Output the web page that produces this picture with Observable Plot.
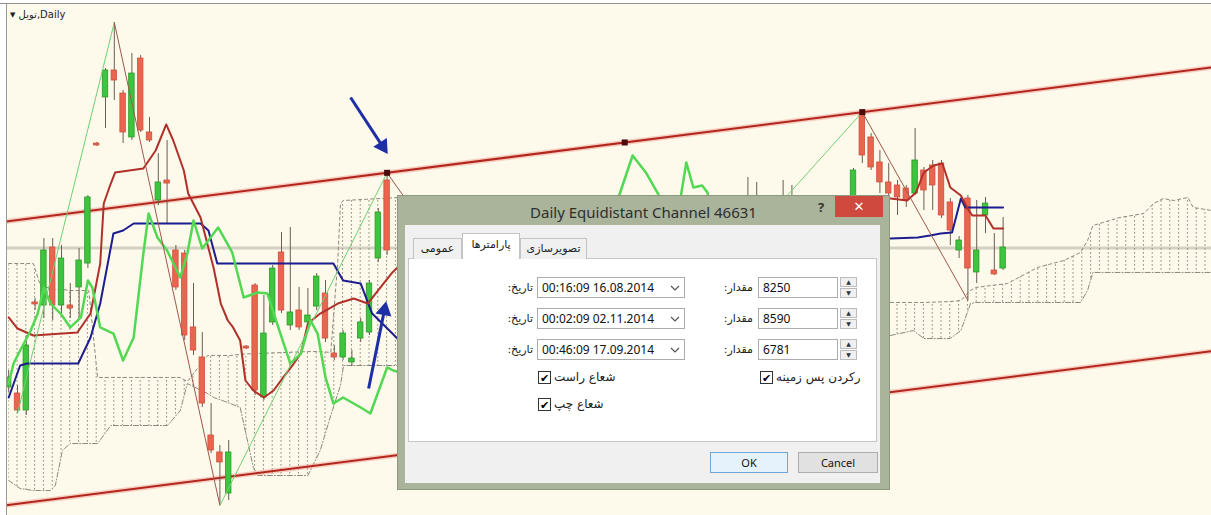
<!DOCTYPE html>
<html><head><meta charset="utf-8">
<script src="https://cdn.jsdelivr.net/npm/d3@7"></script>
<script src="https://cdn.jsdelivr.net/npm/@observablehq/plot@0.6"></script>
<style>
html,body{margin:0;padding:0;background:#fff;}
#wrap{position:relative;width:1211px;height:515px;overflow:hidden;font-family:"Noto Sans","DejaVu Sans",sans-serif;}
#chart svg{display:block;}
.a{position:absolute;box-sizing:border-box;white-space:nowrap;}
.fa{font-family:"DejaVu Sans","Noto Sans",sans-serif;font-size:11px;color:#222;}
.lbl{display:flex;justify-content:flex-end;direction:ltr;}
.box{background:#fff;border:1px solid #acacac;font-size:12px;color:#111;line-height:19px;padding-left:4px;}
.tab{background:#f0f0f0;border:1px solid #c4c4c4;border-bottom:none;text-align:center;}
.spin{background:#f0f0f0;border:1px solid #bcbcbc;width:17px;height:10px;font-size:6px;line-height:9px;text-align:center;color:#333;}
.cb{width:13px;height:13px;border:1px solid #333;background:#fff;font-size:11px;line-height:11px;text-align:center;color:#000;font-weight:bold;}
.btn{height:21px;font-size:11px;text-align:center;line-height:19px;color:#111;}
</style></head><body>
<div id="wrap">
<div id="chart"></div>
<div class="a" style="left:0;top:0;width:1211px;height:4px;background:#fff;border-bottom:1px solid #8f8f8f;"></div>
<div class="a" style="left:0;top:4px;width:7px;height:511px;background:#fff;border-right:1px solid #9a9a9a;"></div>
<div class="a" style="left:10px;top:9px;font-size:10px;color:#222;font-family:'DejaVu Sans',sans-serif;"><span style="font-size:7px;vertical-align:1px;">▼</span> <span>تویل,Daily</span></div>

<!-- dialog -->
<div class="a" style="left:397px;top:195px;width:493px;height:295px;background:#a9b49b;border:1px solid #8e987f;"></div>
<div class="a" style="left:397px;top:202px;width:493px;text-align:center;font-size:15px;color:#2e2e2e;">Daily Equidistant Channel 46631</div>
<div class="a" style="left:818px;top:198px;font-size:13px;font-weight:bold;color:#333;">?</div>
<div class="a" style="left:835px;top:196px;width:48px;height:21px;background:#cf4a3e;color:#fff;text-align:center;font-size:13px;line-height:21px;">✕</div>
<div class="a" style="left:405px;top:225px;width:475px;height:258px;background:#f0f0f0;"></div>
<div class="a" style="left:408px;top:258px;width:469px;height:184px;background:#fff;border:1px solid #c6c6c6;"></div>
<div class="a tab fa" style="left:413px;top:238px;width:49px;height:21px;line-height:19px;">عمومی</div>
<div class="a tab fa" style="left:520px;top:238px;width:67px;height:21px;line-height:19px;">تصویرسازی</div>
<div class="a tab fa" style="left:462px;top:233px;width:58px;height:26px;line-height:22px;background:#fff;">پارامترها</div>

<div class="a fa lbl" style="left:470px;top:281px;width:63px;"><span>:</span><span>تاریخ</span></div>
<div class="a box" style="left:537px;top:277px;width:148px;height:21px;">00:16:09 16.08.2014</div>
<div class="a fa lbl" style="left:690px;top:281px;width:63px;"><span>:</span><span>مقدار</span></div>
<div class="a box" style="left:758px;top:277px;width:80px;height:21px;">8250</div>

<div class="a fa lbl" style="left:470px;top:312px;width:63px;"><span>:</span><span>تاریخ</span></div>
<div class="a box" style="left:537px;top:308px;width:148px;height:21px;">00:02:09 02.11.2014</div>
<div class="a fa lbl" style="left:690px;top:312px;width:63px;"><span>:</span><span>مقدار</span></div>
<div class="a box" style="left:758px;top:308px;width:80px;height:21px;">8590</div>

<div class="a fa lbl" style="left:470px;top:343px;width:63px;"><span>:</span><span>تاریخ</span></div>
<div class="a box" style="left:537px;top:339px;width:148px;height:21px;">00:46:09 17.09.2014</div>
<div class="a fa lbl" style="left:690px;top:343px;width:63px;"><span>:</span><span>مقدار</span></div>
<div class="a box" style="left:758px;top:339px;width:80px;height:21px;">6781</div>

<svg class="a" style="left:670px;top:284px" width="10" height="70"><polyline points="1,2 5,6 9,2" fill="none" stroke="#555" stroke-width="1.2"/><polyline points="1,33 5,37 9,33" fill="none" stroke="#555" stroke-width="1.2"/><polyline points="1,64 5,68 9,64" fill="none" stroke="#555" stroke-width="1.2"/></svg>
<div class="a spin" style="left:840px;top:277px;">▲</div><div class="a spin" style="left:840px;top:288px;">▼</div>
<div class="a spin" style="left:840px;top:308px;">▲</div><div class="a spin" style="left:840px;top:319px;">▼</div>
<div class="a spin" style="left:840px;top:339px;">▲</div><div class="a spin" style="left:840px;top:350px;">▼</div>

<div class="a cb" style="left:538px;top:371px;">✔</div>
<div class="a fa" style="left:554px;top:370px;font-size:12px;">شعاع راست</div>
<div class="a cb" style="left:538px;top:398px;">✔</div>
<div class="a fa" style="left:554px;top:397px;font-size:12px;">شعاع چپ</div>
<div class="a cb" style="left:760px;top:371px;">✔</div>
<div class="a fa" style="left:776px;top:370px;font-size:12px;">رکردن پس زمینه</div>

<div class="a btn" style="left:710px;top:452px;width:78px;background:#e5f1fb;border:1px solid #6fa6d8;">OK</div>
<div class="a btn" style="left:798px;top:452px;width:80px;background:#e1e1e1;border:1px solid #adadad;">Cancel</div>
</div>

<script>
// ---- candles (bar index, prices) ----
const candleBar   = [0,1,2,3,4,5,6,7,8,9,10,11,12,13,14,15,16,17,18,19,20,21,22,23,24,25,27,28,29,30,31,32,33,34,35,36,37,38,39,40,41,42,43,84,85,88,89,96,97,98,99,100,101,102,103,104,105,106,107,108,109,110,111,112,113];
const candleOpen  = [7048,7014,6919,7524,7507,7832,7507,7507,7608,7742,8414,8672,8823,8694,8448,8890,8476,8095,8207,7815,7798,7384,7216,6779,6684,6454,7277,7619,6992,7412,7804,7395,7479,7412,7501,7574,7238,7216,7188,7322,7356,7770,8207,8095,8080,8060,8050,8011,8582,8448,8308,8196,8179,8162,8134,8263,8291,8302,8084,7815,8106,7692,8011,7703,7714];
const candleHigh  = [7143,7059,7339,7546,7882,7882,7843,7630,7826,8123,8420,8834,9092,8711,8918,8907,8560,8358,8431,7843,7815,7630,7356,6958,6723,6751,7283,7630,7563,7731,7916,7944,7608,7602,7686,7647,7283,7367,7255,7434,7647,8050,8250,8224,8196,8207,8179,8274,8590,8470,8375,8302,8207,8179,8498,8280,8319,8319,8106,7893,8123,8095,8112,7910,8000];
const candleLow   = [7020,6902,6891,7479,7434,7423,7440,7434,7440,7714,8398,8498,8655,8414,8431,8476,8420,8067,7966,7591,7311,7227,6936,6678,6387,6415,7260,7003,6975,7395,7462,7367,7367,7378,7479,7300,7199,7199,7165,7300,7339,7748,7787,7927,7990,7960,7950,7990,8302,8263,8134,8095,8011,8056,8123,8039,8039,7994,7843,7770,7535,7630,7910,7675,7703];
const candleClose = [7104,6919,7283,7513,7815,7507,7770,7490,7759,8112,8403,8823,8767,8476,8806,8487,8431,8196,8190,7608,7339,7255,6958,6695,6628,6684,7266,7031,7350,7714,7479,7468,7384,7451,7669,7322,7216,7350,7210,7412,7630,8028,7815,8011,8040,8020,8010,8263,8347,8280,8196,8134,8112,8095,8319,8151,8179,8011,7927,7871,7714,7815,8078,7681,7832];

// ---- Ichimoku lines ----
const tenkanBar   = [0,1,2.8,7.8,9.3,10.4,10.8,11.6,12.1,15.3,16.7,17.9,18.7,19.9,20.4,21.8,23.3,24.1,24.9,25.5,26.3,26.9,27.8,29,30.1,31.2,32.4,33.2,34,35.4,37.4,39.2,40.8,42.25,43.6,44.6];
const tenkanPrice = [7440,7378,7339,7356,7462,7742,8078,8190,8252,8274,8375,8521,8431,8263,8134,8000,7714,7518,7423,7384,7311,7087,7031,6992,7031,7104,7182,7238,7406,7462,7518,7546,7518,7608,7692,7740];
const tenkanBar2   = [100.2,102.1,103.1,104,105.1,106.1,107,108.2,109.1,109.5,111,111.9,113];
const tenkanPrice2 = [8106,8095,8140,8252,8291,8302,8168,8123,8039,8011,8011,7938,7938];
const kijunBar   = [0,1.3,2.1,7.9,9.3,10.4,11.9,13,14.2,21.8,22.7,23.7,36.9,38,40,41.3,43.6,44.6];
const kijunPrice = [6992,7171,7182,7182,7328,7518,7910,7927,7966,7966,7927,7742,7742,7647,7630,7462,7350,7300];
const kijunBar2   = [100.2,103.3,104.7,105.9,107.2,108.2,108.7,109.3,113];
const kijunPrice2 = [7882,7888,7899,7910,7916,8106,8056,8056,8056];
const chikouBar   = [0,0.55,1.3,2.5,3.3,4,4.75,5.9,7,8.2,9,9.5,10.4,11.9,13,14.2,15.3,15.9,16.9,18,19.5,20.3,21,22,23.8,25.4,26.7,28.3,29.4,30.5,32,33.2,34.3,35.1,36,36.9,38,40,41.1,43,43.7,44.6];
const chikouPrice = [7070,7182,7255,7367,7462,7608,7518,7462,7384,7440,7647,7608,7384,7350,7199,7328,7798,8022,7888,7815,7664,7798,7983,7826,7944,7804,7552,7580,7574,7406,7182,7238,7423,7350,7104,6958,6992,6936,6902,7160,7143,7130];
const chikouBar2   = [68.6,69.75,70.9,72.4,74.1,75.4,76.3,77,77.8,78.8,79.4,80];
const chikouPrice2 = [8011,8179,8347,8252,8106,8011,8095,8308,8168,8179,8140,8011];

// ---- cloud (span A / span B) ----
const cloudBarL = [0,1.3,2.8,3.6,4.75,5.3,6.1,7,9.1,10.1,11.6,18.05,19.5,20.3,22.6,23.3,25.2,26.3,27.8,28.3,34,35.4,36.6,37.4,37.7,38.05,44.5];
const spanAL    = [7742,7742,7742,7619,7602,7597,7597,7591,7591,7104,7104,7104,7104,7081,7227,7227,7227,7233,7238,7238,7249,7249,7244,7759,8078,8095,8112];
const spanBL    = [6527,6482,6471,6471,6471,6499,6695,6734,6734,6734,6835,6835,6919,7070,7014,6992,6958,6936,6600,6555,6555,6695,6891,7014,7059,7171,7171];
const cloudBarR = [100.2,102.8,104,107,108.2,109.3,109.9,113.5,116.9,119.9,121.8,122.6,123.2,126.3,129,130.1,131.2,132.4,134,134.6,136.7];
const spanAR    = [7524,7524,7524,7529,7535,7591,7608,7630,7720,7759,7804,7871,7955,8000,8022,8078,8106,8095,8112,8056,8039];
const spanBR    = [7339,7367,7322,7322,7367,7518,7524,7524,7524,7524,7524,7591,7692,7692,7692,7692,7692,7692,7692,7692,7692];

// ---- equidistant channel anchors (from dialog) ----
const anchorBar   = [43,97,62];
const anchorPrice = [8250,8590,6781];
// ---- zigzag ----
const zigBar   = [1,12,24,43,64,97,109];
const zigPrice = [6902,9092,6387,8250,6781,8590,7535];
// ---- annotations ----
const arrowBar1 = [38.85,40.9], arrowPrice1 = [8672,7042];
const arrowBar2 = [42.8,42.8],  arrowPrice2 = [8375,7507];
const currentPrice = 7829;

// ---- build tables ----
const W = 1211, H = 515;
const xDom = [-0.932,136.68], yDom = [6331,9215];
const pxPerBar = W/(xDom[1]-xDom[0]), pxPerPrice = H/(yDom[1]-yDom[0]);
const candles = candleBar.map((b,k)=>({i:b,o:candleOpen[k],h:candleHigh[k],l:candleLow[k],c:candleClose[k]}));
const ser = (xs,ys,z)=>xs.map((x,k)=>({i:x,p:ys[k],z}));
const tenkan = [...ser(tenkanBar,tenkanPrice,1),...ser(tenkanBar2,tenkanPrice2,2)];
const kijun = [...ser(kijunBar,kijunPrice,1),...ser(kijunBar2,kijunPrice2,2)];
const chikou = [...ser(chikouBar,chikouPrice,1),...ser(chikouBar2,chikouPrice2,2)];
const cloud = [...cloudBarL.map((x,k)=>({i:x,a:spanAL[k],b:spanBL[k],z:1})),...cloudBarR.map((x,k)=>({i:x,a:spanAR[k],b:spanBR[k],z:2}))];

const slope = (anchorPrice[1]-anchorPrice[0])/(anchorBar[1]-anchorBar[0]);
const upperAt = i=>anchorPrice[0]+slope*(i-anchorBar[0]);
const offset = upperAt(anchorBar[2])-anchorPrice[2];
const channel = [
  ...xDom.map(i=>({i,p:upperAt(i),z:"u"})),
  ...xDom.map(i=>({i,p:upperAt(i)-offset,z:"l"}))
];
const midBar = (anchorBar[0]+anchorBar[1])/2;
const markers = [
  {i:anchorBar[0],p:anchorPrice[0]},{i:midBar,p:upperAt(midBar)},
  {i:anchorBar[1],p:anchorPrice[1]},{i:anchorBar[2],p:anchorPrice[2]}
];
const zig = zigBar.slice(1).map((b,k)=>({x1:zigBar[k],y1:zigPrice[k],x2:b,y2:zigPrice[k+1],up:zigPrice[k+1]>zigPrice[k]}));
// arrows: shaft + filled triangular head placed just behind the tip
const arrows = arrowBar1.map((b,k)=>{
  const dx=(arrowBar2[k]-b)*pxPerBar, dy=-(arrowPrice2[k]-arrowPrice1[k])*pxPerPrice;
  const len=Math.hypot(dx,dy), ux=dx/len, uy=dy/len, back=5;
  return {x1:b,y1:arrowPrice1[k],x2:arrowBar2[k],y2:arrowPrice2[k],
    hx:arrowBar2[k]-ux*back/pxPerBar, hy:arrowPrice2[k]+uy*back/pxPerPrice,
    rot:Math.atan2(dx,-dy)*180/Math.PI};
});

const GREEN="#3ec43e", RED="#e8654f";
const svg = Plot.plot({
  width:W, height:H, margin:0,
  x:{domain:xDom, axis:null},
  y:{domain:yDom, axis:null},
  color:{type:"identity"},
  style:{background:"#fdf9eb", overflow:"hidden"},
  marks:[
    Plot.ruleY([currentPrice],{stroke:"#d4d0c6",strokeWidth:3}),
    Plot.areaY(cloud,{x:"i",y1:"a",y2:"b",z:"z",fill:"#999999"}),
    Plot.line(cloud,{x:"i",y:"a",z:"z",stroke:"#8c877c",strokeWidth:1,strokeDasharray:"3,3"}),
    Plot.line(cloud,{x:"i",y:"b",z:"z",stroke:"#8c877c",strokeWidth:1,strokeDasharray:"5,2,1,2"}),
    Plot.line(channel,{x:"i",y:"p",z:"z",stroke:"#ee9a8c",strokeWidth:5,strokeOpacity:0.45}),
    Plot.line(channel,{x:"i",y:"p",z:"z",stroke:"#b3261e",strokeWidth:2}),
    Plot.ruleX(candles,{x:"i",y1:"l",y2:"h",stroke:"#6a5e55",strokeWidth:1}),
    Plot.rect(candles,{x1:d=>d.i-0.31,x2:d=>d.i+0.31,y1:"o",y2:"c",
      fill:d=>d.c>=d.o?GREEN:RED, stroke:d=>d.c>=d.o?"#2a9a2a":"#d0503c", strokeWidth:0.8}),
    Plot.line(kijun,{x:"i",y:"p",z:"z",stroke:"#1d1d8f",strokeWidth:2}),
    Plot.line(tenkan,{x:"i",y:"p",z:"z",stroke:"#b0302a",strokeWidth:2}),
    Plot.line(chikou,{x:"i",y:"p",z:"z",stroke:"#52d852",strokeWidth:2.5}),
    Plot.link(zig,{x1:"x1",y1:"y1",x2:"x2",y2:"y2",stroke:d=>d.up?"#72d072":"#a0584a",strokeWidth:1}),
    Plot.dot(markers,{x:"i",y:"p",symbol:"square",r:3.4,fill:"#4a0d0d"}),
    Plot.link(arrows,{x1:"x1",y1:"y1",x2:"hx",y2:"hy",stroke:"#1e2fa6",strokeWidth:3}),
    Plot.dot(arrows,{x:"hx",y:"hy",symbol:"triangle",r:6,rotate:"rot",fill:"#1e2fa6"})
  ]
});
const defs = document.createElementNS("http://www.w3.org/2000/svg","defs");
defs.innerHTML = '<pattern id="hatch" patternUnits="userSpaceOnUse" x="7.7" y="0" width="8.8" height="4"><rect x="0" y="0" width="1" height="1.7" fill="#928d82"/></pattern>';
svg.insertBefore(defs, svg.firstChild);
const areaG = d3.select(svg).selectAll('g[aria-label="area"]');
areaG.attr("fill","url(#hatch)");
areaG.selectAll("path").attr("fill","url(#hatch)");
document.getElementById("chart").appendChild(svg);
</script>
</body></html>
